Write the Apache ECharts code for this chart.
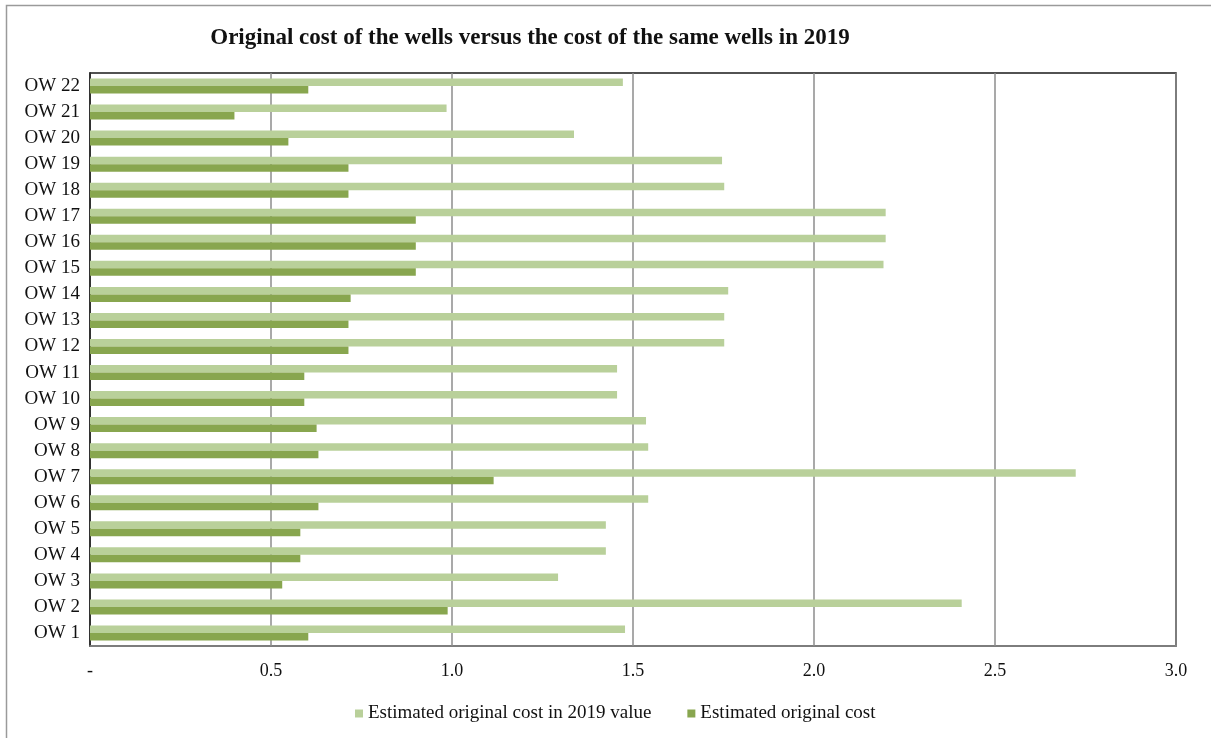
<!DOCTYPE html>
<html><head><meta charset="utf-8">
<script src="https://cdn.jsdelivr.net/npm/echarts@6/dist/echarts.min.js"></script>
<style>html,body{margin:0;padding:0;background:#fff}#c{width:1211px;height:738px}</style>
</head><body><div id="c"></div>
<script>
const categories = ['OW 1','OW 2','OW 3','OW 4','OW 5','OW 6','OW 7','OW 8','OW 9','OW 10','OW 11','OW 12','OW 13','OW 14','OW 15','OW 16','OW 17','OW 18','OW 19','OW 20','OW 21','OW 22'];
const cost2019 = [1.478,2.408,1.293,1.425,1.425,1.542,2.723,1.542,1.536,1.456,1.456,1.752,1.752,1.763,2.192,2.198,2.198,1.752,1.746,1.337,0.985,1.472];
const costOriginal = [0.603,0.988,0.531,0.581,0.581,0.631,1.115,0.631,0.626,0.592,0.592,0.714,0.714,0.72,0.9,0.9,0.9,0.714,0.714,0.548,0.399,0.603];
const xTicks = [0,0.5,1.0,1.5,2.0,2.5,3.0];
const name2019 = 'Estimated original cost in 2019 value';
const nameOrig = 'Estimated original cost';

const chart = echarts.init(document.getElementById('c'));
const serif = '"Liberation Serif", "DejaVu Serif", serif';
chart.setOption({
  animation: false,
  backgroundColor: '#fff',
  title: {
    text: 'Original cost of the wells versus the cost of the same wells in 2019',
    left: 525, top: 22, textAlign: 'center',
    textStyle: {fontFamily: serif, fontWeight: 'bold', fontSize: 23, color: '#111'}
  },
  graphic: [{type: 'rect', shape: {x: 6.5, y: 5.5, width: 1210, height: 740}, style: {fill: 'none', stroke: '#9a9a9a', lineWidth: 1.5}, silent: true}],
  legend: {
    data: [name2019, nameOrig],
    bottom: 10, left: 350,
    icon: 'rect', itemWidth: 8, itemHeight: 8, itemGap: 36,
    textStyle: {fontFamily: serif, fontSize: 19, color: '#111'}
  },
  grid: {left: 90, right: 35, top: 73, bottom: 92, show: true, borderColor: '#1a1a1a', borderWidth: 1.5, containLabel: false},
  xAxis: {
    type: 'value', min: 0, max: 3, interval: 0.5,
    axisLine: {show: true, lineStyle: {color: '#8c8c8c', width: 1.5}},
    axisTick: {show: false},
    splitLine: {show: true, lineStyle: {color: '#8c8c8c', width: 1.5}},
    axisLabel: {margin: 16, fontFamily: serif, fontSize: 18, color: '#111',
      formatter: v => v === 0 ? '-' : v.toFixed(1)}
  },
  yAxis: {
    type: 'category', data: categories,
    axisLine: {show: true, lineStyle: {color: '#1a1a1a', width: 1.5}},
    axisTick: {show: false},
    axisLabel: {margin: 10, fontFamily: serif, fontSize: 19, color: '#111'}
  },
  series: [
    {name: name2019, type: 'bar', data: cost2019, barWidth: 7.5, barGap: '0%', itemStyle: {color: '#b9d09a'}},
    {name: nameOrig, type: 'bar', data: costOriginal, barWidth: 7.5, barGap: '0%', itemStyle: {color: '#88a64f'}}
  ]
});
</script></body></html>
